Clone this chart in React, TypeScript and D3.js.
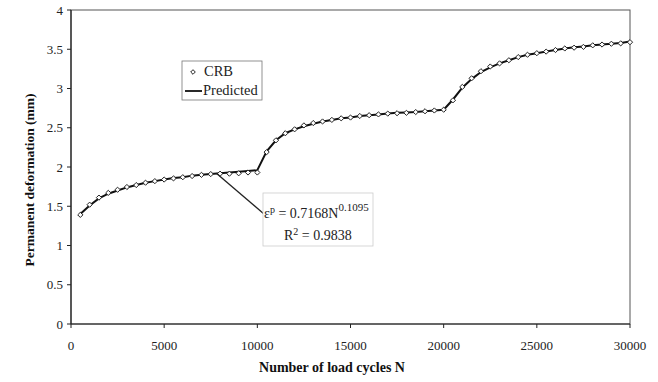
import React from 'react';
import * as d3 from 'd3';

// load cycles, every 500
const cycles: number[] = [
  500, 1000, 1500, 2000, 2500, 3000, 3500, 4000, 4500, 5000,
  5500, 6000, 6500, 7000, 7500, 8000, 8500, 9000, 9500, 10000,
  10500, 11000, 11500, 12000, 12500, 13000, 13500, 14000, 14500, 15000,
  15500, 16000, 16500, 17000, 17500, 18000, 18500, 19000, 19500, 20000,
  20500, 21000, 21500, 22000, 22500, 23000, 23500, 24000, 24500, 25000,
  25500, 26000, 26500, 27000, 27500, 28000, 28500, 29000, 29500, 30000,
];

// measured (CRB)
const crb: number[] = [
  1.39, 1.52, 1.61, 1.67, 1.71, 1.745, 1.77, 1.8, 1.82, 1.84,
  1.855, 1.87, 1.885, 1.9, 1.91, 1.915, 1.915, 1.92, 1.93, 1.93,
  2.19, 2.34, 2.43, 2.48, 2.53, 2.56, 2.58, 2.6, 2.62, 2.63,
  2.65, 2.66, 2.67, 2.68, 2.685, 2.69, 2.7, 2.71, 2.72, 2.73,
  2.85, 3.02, 3.13, 3.22, 3.28, 3.32, 3.36, 3.4, 3.43, 3.45,
  3.47, 3.49, 3.51, 3.52, 3.53, 3.55, 3.56, 3.57, 3.575, 3.59,
];

// predicted model
const predicted: number[] = [
  1.4, 1.51, 1.6, 1.66, 1.7, 1.74, 1.77, 1.8, 1.82, 1.84,
  1.86, 1.87, 1.89, 1.9, 1.91, 1.92, 1.93, 1.94, 1.95, 1.96,
  2.2, 2.34, 2.43, 2.48, 2.52, 2.55, 2.58, 2.6, 2.62, 2.63,
  2.65, 2.66, 2.67, 2.68, 2.69, 2.695, 2.7, 2.71, 2.72, 2.73,
  2.86, 3.01, 3.12, 3.21, 3.27, 3.32, 3.36, 3.4, 3.43, 3.45,
  3.47, 3.49, 3.51, 3.525, 3.535, 3.55, 3.56, 3.57, 3.58, 3.6,
];

const xTicks = [0, 5000, 10000, 15000, 20000, 25000, 30000];
const yTicks = [0, 0.5, 1, 1.5, 2, 2.5, 3, 3.5, 4];

const font = "'Liberation Serif', 'Times New Roman', serif";

const App = () => {
  const W = 658;
  const H = 382;
  const left = 71, right = 630, top = 10, bottom = 324;

  const x = d3.scaleLinear().domain([0, 30000]).range([left, right]);
  const y = d3.scaleLinear().domain([0, 4]).range([bottom, top]);

  const line = d3.line<number>()
    .x((_, i) => x(cycles[i]))
    .y(d => y(d));

  const diamond = (cx: number, cy: number, r: number) =>
    `M${cx},${cy - r}L${cx + r},${cy}L${cx},${cy + r}L${cx - r},${cy}Z`;

  // leader line from the curve to the equation box
  const leadN = 7800;
  const leadV = 1.92;

  return (
    <svg width={W} height={H}
      style={{ position: 'absolute', left: 0, top: 0, background: '#fff', fontFamily: font }}>
      {/* plot frame */}
      <rect x={left} y={top} width={right - left} height={bottom - top} fill="none" stroke="#555" strokeWidth={1} />
      <line x1={left} x2={left} y1={top} y2={bottom} stroke="#222" strokeWidth={1.2} />
      <line x1={left} x2={right} y1={bottom} y2={bottom} stroke="#222" strokeWidth={1.2} />

      {/* y axis */}
      {yTicks.map(t => (
        <g key={t}>
          <line x1={left - 4} x2={left} y1={y(t)} y2={y(t)} stroke="#222" />
          <text x={left - 8} y={y(t)} dy="0.35em" textAnchor="end" fontSize={13} fill="#222">{t}</text>
        </g>
      ))}

      {/* x axis */}
      {xTicks.map(t => (
        <g key={t}>
          <line x1={x(t)} x2={x(t)} y1={bottom} y2={bottom + 4} stroke="#222" />
          <text x={x(t)} y={bottom + 26} textAnchor="middle" fontSize={13} fill="#222">{t}</text>
        </g>
      ))}

      <text x={332} y={372} textAnchor="middle" fontSize={14} fontWeight="bold" fill="#111">
        Number of load cycles N
      </text>
      <text transform="translate(34,180) rotate(-90)" textAnchor="middle"
        fontSize={13.5} fontWeight="bold" fill="#111">
        Permanent deformation (mm)
      </text>

      {/* predicted line */}
      <path d={line(predicted) || ''} fill="none" stroke="#111" strokeWidth={2} />

      {/* CRB markers */}
      {crb.map((v, i) => (
        <path key={i} d={diamond(x(cycles[i]), y(v), 2.6)} fill="#fff" stroke="#222" strokeWidth={1} />
      ))}

      {/* legend */}
      <rect x={182} y={61} width={80} height={39} fill="#fff" stroke="#777" strokeWidth={0.8} />
      <path d={diamond(193, 72, 2.3)} fill="#fff" stroke="#222" strokeWidth={1} />
      <text x={204} y={76} fontSize={14.5} fill="#222">CRB</text>
      <line x1={185} x2={202} y1={91} y2={91} stroke="#111" strokeWidth={1.8} />
      <text x={203} y={95} fontSize={14.5} fill="#222">Predicted</text>

      {/* equation */}
      <line x1={x(leadN)} y1={y(leadV)} x2={264} y2={214} stroke="#222" strokeWidth={1.3} />
      <rect x={263} y={193} width={110} height={53} fill="#fff" stroke="#ccc" strokeWidth={0.8} />
      <text x={264} y={218} fontSize={14} fill="#222">
        ε<tspan dy={-5} fontSize={10}>p</tspan>
        <tspan dy={5}> = 0.7168N</tspan>
        <tspan dy={-7} fontSize={11}>0.1095</tspan>
      </text>
      <text x={284} y={240} fontSize={14} fill="#222">
        R<tspan dy={-5} fontSize={10}>2</tspan>
        <tspan dy={5}> = 0.9838</tspan>
      </text>
    </svg>
  );
};

export default App;
